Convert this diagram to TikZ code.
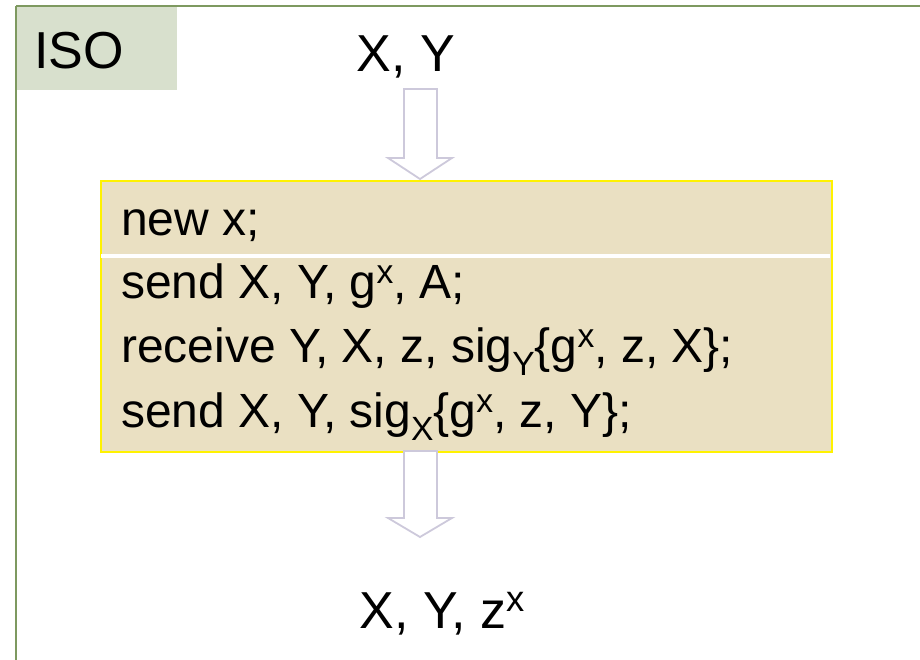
\documentclass[tikz,border=0pt]{standalone}
\usepackage{fontspec}
\setmainfont{Liberation Sans}
% raised and lowered small text, scaled to the running font size
\newcommand\upidx[1]{\raisebox{0.31em}{\fontsize{0.7\fontdimen6\font}{0pt}\selectfont #1}}
\newcommand\lowidx[1]{\raisebox{-0.28em}{\fontsize{0.7\fontdimen6\font}{0pt}\selectfont #1}}
\begin{document}
\begin{tikzpicture}[x=1pt,y=-1pt,
  frameline/.style={draw=frameg,line width=2.4pt},
  flowarrow/.style={draw=arrowc,fill=white,line width=1.8pt,line join=miter},
  code/.style={anchor=base west,inner sep=0pt,font=\fontsize{48}{56}\selectfont},
  big/.style={anchor=base,inner sep=0pt,font=\fontsize{52}{62}\selectfont}]
\definecolor{frameg}{HTML}{7E9960}
\definecolor{isofill}{HTML}{D8E0CD}
\definecolor{boxfill}{HTML}{EAE0C2}
\definecolor{arrowc}{HTML}{CDC9DB}
\useasboundingbox (0,0) rectangle (920,660);
% frame: title tab and the two border lines
\fill[isofill] (16,6) rectangle (177,90);
\draw[frameline] (16,6) -- (920,6);
\draw[frameline] (16,6) -- (16,660);
\node[big,anchor=base west] (iso) at (34,69) {ISO};
\node[big] (inp) at (406,72) {X, Y};
% protocol box
\node[draw=yellow,fill=boxfill,line width=2pt,minimum width=731pt,minimum height=271pt,anchor=north west,inner sep=0pt] (box) at (100,180) {};
\draw[white,line width=4pt] (101,256) -- (830,256);
\node[code] (l1) at (121,236) {new x;};
\node[code] (l2) at (121,298) {send X, Y, g\upidx{x}, A;};
\node[code] (l3) at (121,362) {receive Y, X, z, sig\lowidx{Y}\{g\upidx{x}, z, X\};};
\node[code] (l4) at (121,427) {send X, Y, sig\lowidx{X}\{g\upidx{x}, z, Y\};};
\node[big] (out) at (442,628) {X, Y, z\upidx{x}};
% block arrows
\draw[flowarrow] (404,89) -- (437,89) -- (437,158) -- (452,158) -- (420,179) -- (388,158) -- (404,158) -- cycle;
\draw[flowarrow] (404,451) -- (437,451) -- (437,518) -- (452,518) -- (420,537) -- (388,518) -- (404,518) -- cycle;
\end{tikzpicture}
\end{document}
